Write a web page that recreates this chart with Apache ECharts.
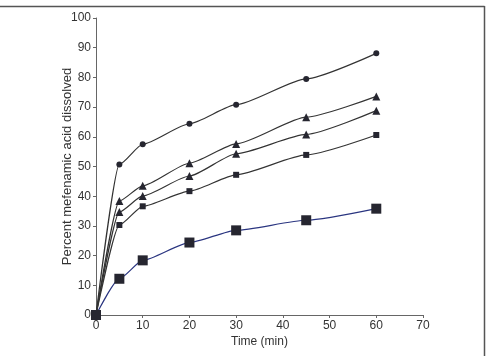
<!DOCTYPE html>
<html>
<head>
<meta charset="utf-8">
<script src="https://cdn.jsdelivr.net/npm/echarts@6/dist/echarts.min.js"></script>
<style>
  html, body { margin: 0; padding: 0; background: #fff; }
  #chart { width: 490px; height: 356px; }
</style>
</head>
<body>
<div id="chart"></div>
<script>
// sampling times (min)
const times = [0, 5, 10, 20, 30, 45, 60]

// percent dissolved
const circleData = [0, 50.7, 57.5, 64.4, 70.8, 79.5, 88.1]
const triangleAData = [0, 38.4, 43.5, 51.1, 57.6, 66.6, 73.6]
const triangleBData = [0, 34.7, 40.1, 46.8, 54.3, 60.8, 68.8]
const squareData = [0, 30.3, 36.6, 41.7, 47.2, 53.9, 60.6]
const bigSquareData = [0, 12.2, 18.4, 24.4, 28.5, 31.9, 35.8]

const xTicks = [0, 10, 20, 30, 40, 50, 60, 70]
const yTicks = [0, 10, 20, 30, 40, 50, 60, 70, 80, 90, 100]

const pairs = (arr) => times.map((t, i) => [t, arr[i]])

const chart = echarts.init(document.getElementById('chart'))

const axisText = {color: '#333', fontSize: 12, fontFamily: 'Liberation Sans, Arial, sans-serif'}

const makeSeries = (data, symbol, size, lineColor) => ({
  type: 'line',
  data: pairs(data),
  smooth: 0.2,
  smoothMonotone: 'x',
  symbol: symbol,
  symbolSize: size,
  showAllSymbol: true,
  itemStyle: {color: '#262630'},
  lineStyle: {color: lineColor, width: 1.2},
  z: 3
})

chart.setOption({
  animation: false,
  textStyle: axisText,
  grid: {left: 96, right: 67, top: 18, bottom: 41},
  xAxis: {
    type: 'value',
    min: xTicks[0],
    max: xTicks[xTicks.length - 1],
    interval: 10,
    name: 'Time (min)',
    nameLocation: 'middle',
    nameGap: 21,
    nameMoveOverlap: false,
    nameTextStyle: axisText,
    axisLine: {lineStyle: {color: '#666', width: 1}},
    axisTick: {show: true, length: 3, lineStyle: {color: '#666'}},
    axisLabel: Object.assign({margin: 5}, axisText),
    splitLine: {show: false}
  },
  yAxis: {
    type: 'value',
    min: yTicks[0],
    max: yTicks[yTicks.length - 1],
    interval: 10,
    name: 'Percent mefenamic acid dissolved',
    nameLocation: 'middle',
    nameGap: 22,
    nameMoveOverlap: false,
    nameTextStyle: Object.assign({}, axisText, {fontSize: 13}),
    axisLine: {show: true, lineStyle: {color: '#666', width: 1}},
    axisTick: {show: true, length: 3, lineStyle: {color: '#666'}},
    axisLabel: Object.assign({margin: 5}, axisText),
    splitLine: {show: false}
  },
  graphic: [
    {type: 'line', shape: {x1: 0, y1: 6.5, x2: 484.5, y2: 6.5}, style: {stroke: '#555', lineWidth: 1.5}},
    {type: 'line', shape: {x1: 484.5, y1: 6, x2: 484.5, y2: 356}, style: {stroke: '#555', lineWidth: 1.5}}
  ],
  series: [
    makeSeries(circleData, 'circle', 6, '#333'),
    makeSeries(triangleAData, 'triangle', 8, '#333'),
    makeSeries(triangleBData, 'triangle', 8, '#333'),
    makeSeries(squareData, 'rect', 6, '#333'),
    makeSeries(bigSquareData, 'rect', 10, '#2a3580')
  ]
})
</script>
</body>
</html>
